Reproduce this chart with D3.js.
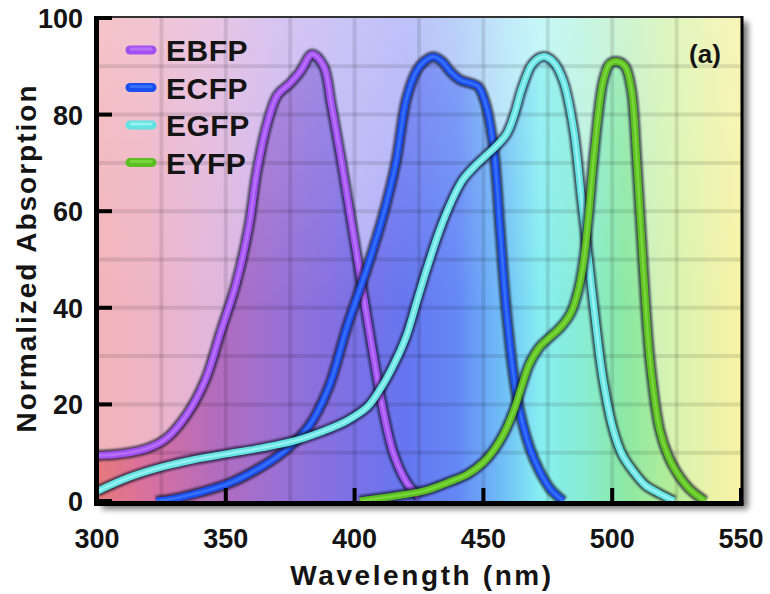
<!DOCTYPE html>
<html>
<head>
<meta charset="utf-8">
<script src="https://cdn.jsdelivr.net/npm/d3@7"></script>
<style>
body { margin: 0; background: #fff; }
text { font-family: "Liberation Sans", Arial, sans-serif; font-weight: bold; fill: #141414; }
</style>
</head>
<body>
<svg id="chart" width="770" height="594"></svg>
<script>
// absorption spectra
var names = ['EBFP', 'ECFP', 'EGFP', 'EYFP'];

var ebfpWave = [300, 310, 320, 327, 335, 342, 348, 354, 359, 362, 366, 370, 375, 379, 383.5, 388, 391, 395, 399, 403, 407, 411, 415, 420, 425];
var ebfpAbs  = [9.4, 9.8, 11, 13, 18, 25, 35, 45, 57, 68, 78, 84, 86.5, 89, 92.5, 90, 82, 70, 57, 44, 31, 19, 10, 4, 0.8];

var ecfpWave = [323, 330, 340, 351, 362, 372, 382, 390, 397, 405, 411, 416, 420, 424, 427, 430.5, 434, 437, 441, 445, 448, 451, 454, 456.5, 459, 463, 468, 472, 476, 481];
var ecfpAbs  = [0, 0.5, 1.8, 3.6, 6.5, 10, 15.3, 23.6, 36, 48.5, 59, 70, 83, 89, 91, 92, 91, 89, 87.2, 86.5, 85.8, 82, 73, 56, 39, 21.5, 11, 6, 2.5, 0];

var egfpWave = [300, 312, 325, 338, 351, 364, 377, 388, 397, 405, 410, 415, 420, 424, 428, 433, 438, 442, 447, 451, 455, 459, 462, 465, 469, 473, 477, 481, 485, 488, 491, 494, 496.5, 500.5, 504, 508, 513, 518.5, 524];
var egfpAbs  = [2, 4.8, 7, 8.6, 9.8, 11, 12.5, 14.5, 16.6, 19.5, 23.2, 28, 34, 41, 48, 56, 62.5, 66.5, 69.5, 71.5, 73.5, 76, 80, 85.5, 90.5, 92, 91, 87, 77, 63, 49, 35, 25, 14.6, 9.5, 6.3, 3.2, 1.5, 0];

var eyfpWave = [402, 415, 427, 436, 444, 450, 454, 458, 462, 465, 468, 472, 476, 480, 484, 487, 489, 491, 493, 496.5, 499, 501.8, 505, 507.5, 509.6, 512, 514.7, 518.5, 522, 525, 530, 536];
var eyfpAbs  = [0, 1, 2.1, 3.8, 5.6, 8, 10.5, 14, 19, 24, 28.5, 32, 34, 36, 39, 44, 50, 60, 72, 87, 90.5, 91, 90, 85, 70, 49, 29, 14.6, 9, 6, 2.5, 0];

var xTicks = [300, 350, 400, 450, 500, 550];
var yTicks = [0, 20, 40, 60, 80, 100];
var xGrid = [325, 350, 375, 400, 425, 450, 475, 500, 525];
var yGrid = [10, 20, 30, 40, 50, 60, 70, 80, 90];

// spectrum behind the plot: pale above the curves, saturated below them
var specWave  = [300, 320, 345, 370, 395, 420, 440, 458, 472, 490, 505, 525, 550];
var specLight = ['#f2b4b8', '#eeb4c6', '#e2b6dc', '#ccb4ee', '#bcb4f4', '#acb0f8', '#a8c4f8', '#b0e2f8', '#b6f6f6', '#b8f2dc', '#c0f0c4', '#daf4ae', '#f8f2a6'];
var specDark  = ['#e67a7a', '#d870a0', '#b46cbc', '#9a70d4', '#8070e4', '#6676f0', '#6488f6', '#70c0f6', '#86eef2', '#88ecd0', '#8ce8a4', '#b8ee98', '#f0f0a0'];

var colors = ['#a24ff0', '#1b4ff0', '#62e2e2', '#5cc022'];
var lights = ['#c88cff', '#4f8cff', '#c0fffc', '#92e84e'];

var series = [
    { name: names[0], wave: ebfpWave, abs: ebfpAbs },
    { name: names[1], wave: ecfpWave, abs: ecfpAbs },
    { name: names[2], wave: egfpWave, abs: egfpAbs },
    { name: names[3], wave: eyfpWave, abs: eyfpAbs }
];
series.forEach(function(s, i) {
    s.pts = s.wave.map(function(w, j) { return [w, s.abs[j]]; });
    s.color = colors[i];
    s.light = lights[i];
});

var x = d3.scaleLinear().domain([300, 550]).range([97, 741]);
var y = d3.scaleLinear().domain([0, 100]).range([501, 18]);

var svg = d3.select('#chart');
var defs = svg.append('defs');

var px0 = x(300), px1 = x(550), py0 = y(100) - 1, py1 = y(0);

function addGradient(id, cols) {
    var g = defs.append('linearGradient')
        .attr('id', id)
        .attr('gradientUnits', 'userSpaceOnUse')
        .attr('x1', px0).attr('x2', px1).attr('y1', 0).attr('y2', 0);
    specWave.forEach(function(w, i) {
        g.append('stop').attr('offset', (w - 300) / 250).attr('stop-color', cols[i]);
    });
}
addGradient('specLight', specLight);
addGradient('specDark', specDark);

var vfade = defs.append('linearGradient').attr('id', 'vfade')
    .attr('x1', 0).attr('x2', 0).attr('y1', 0).attr('y2', 1);
vfade.append('stop').attr('offset', 0).attr('stop-color', '#fff').attr('stop-opacity', 0.22);
vfade.append('stop').attr('offset', 0.6).attr('stop-color', '#fff').attr('stop-opacity', 0);

var shadow = defs.append('filter').attr('id', 'shadow')
    .attr('x', '-10%').attr('y', '-10%').attr('width', '130%').attr('height', '130%');
shadow.append('feGaussianBlur').attr('stdDeviation', 3);

var soft = defs.append('filter').attr('id', 'soft')
    .attr('x', '-10%').attr('y', '-10%').attr('width', '120%').attr('height', '120%');
soft.append('feGaussianBlur').attr('stdDeviation', 1.1);

defs.append('clipPath').attr('id', 'plotClip')
    .append('rect')
    .attr('x', px0).attr('y', py0)
    .attr('width', px1 - px0).attr('height', py1 - py0);

var smooth = d3.curveCatmullRom.alpha(0.5);

var area = d3.area()
    .x(function(d) { return x(d[0]); })
    .y0(y(0))
    .y1(function(d) { return y(d[1]); })
    .curve(smooth);

var line = d3.line()
    .x(function(d) { return x(d[0]); })
    .y(function(d) { return y(d[1]); })
    .curve(smooth);

var under = defs.append('clipPath').attr('id', 'underClip');
series.forEach(function(s) {
    under.append('path').attr('d', area(s.pts));
});

// frame shadow
svg.append('rect')
    .attr('x', px0 + 5).attr('y', py0 + 5)
    .attr('width', px1 - px0 + 2).attr('height', py1 - py0 + 3)
    .attr('fill', '#000').attr('opacity', 0.55)
    .attr('filter', 'url(#shadow)');

svg.append('rect')
    .attr('x', px0).attr('y', py0)
    .attr('width', px1 - px0).attr('height', py1 - py0)
    .attr('fill', 'url(#specLight)');

svg.append('rect')
    .attr('x', px0).attr('y', py0)
    .attr('width', px1 - px0).attr('height', py1 - py0)
    .attr('fill', 'url(#specDark)')
    .attr('clip-path', 'url(#underClip)');

svg.append('rect')
    .attr('x', px0).attr('y', py0)
    .attr('width', px1 - px0).attr('height', py1 - py0)
    .attr('fill', 'url(#vfade)');

// grid
var grid = svg.append('g').attr('stroke', '#000').attr('stroke-opacity', 0.1).attr('stroke-width', 4);
grid.selectAll('.vg').data(xGrid).enter().append('line')
    .attr('x1', function(d) { return x(d); }).attr('x2', function(d) { return x(d); })
    .attr('y1', py0).attr('y2', py1);
grid.selectAll('.hg').data(yGrid).enter().append('line')
    .attr('x1', px0).attr('x2', px1)
    .attr('y1', function(d) { return y(d); }).attr('y2', function(d) { return y(d); });

// curves
var curves = svg.append('g').attr('clip-path', 'url(#plotClip)');
series.forEach(function(s) {
    var g = curves.append('g');
    g.append('path').datum(s.pts).attr('d', line)
        .attr('fill', 'none').attr('stroke', '#12122a').attr('stroke-opacity', 0.75)
        .attr('stroke-width', 11).attr('stroke-linejoin', 'round')
        .attr('filter', 'url(#soft)');
    g.append('path').datum(s.pts).attr('d', line)
        .attr('fill', 'none').attr('stroke', s.color)
        .attr('stroke-width', 7).attr('stroke-linejoin', 'round');
    g.append('path').datum(s.pts).attr('d', line)
        .attr('fill', 'none').attr('stroke', s.light).attr('stroke-opacity', 0.55)
        .attr('stroke-width', 2.5).attr('stroke-linejoin', 'round');
});

// frame and axes
svg.append('line').attr('x1', px0).attr('x2', px1 + 1).attr('y1', py0).attr('y2', py0)
    .attr('stroke', '#333').attr('stroke-width', 2);
svg.append('line').attr('x1', px1 + 1).attr('x2', px1 + 1).attr('y1', py0 - 1).attr('y2', py1 + 4)
    .attr('stroke', '#000').attr('stroke-width', 3);
svg.append('line').attr('x1', px0 - 0.5).attr('x2', px0 - 0.5).attr('y1', py0 - 1).attr('y2', py1 + 5)
    .attr('stroke', '#000').attr('stroke-width', 5);
svg.append('line').attr('x1', px0 - 3).attr('x2', px1 + 2.5).attr('y1', py1 + 2.5).attr('y2', py1 + 2.5)
    .attr('stroke', '#000').attr('stroke-width', 5);

var ticks = svg.append('g').attr('stroke', '#000').attr('stroke-width', 4);
ticks.selectAll('.yt').data(yTicks).enter().append('line')
    .attr('x1', px0).attr('x2', px0 + 15)
    .attr('y1', function(d) { return y(d); }).attr('y2', function(d) { return y(d); });
ticks.selectAll('.xt').data(xTicks).enter().append('line')
    .attr('x1', function(d) { return x(d); }).attr('x2', function(d) { return x(d); })
    .attr('y1', py1).attr('y2', py1 - 13);

svg.selectAll('.ylab').data(yTicks).enter().append('text')
    .attr('x', 83).attr('y', function(d) { return y(d) + 10; })
    .attr('text-anchor', 'end').style('font-size', '27px')
    .text(function(d) { return d; });
svg.selectAll('.xlab').data(xTicks).enter().append('text')
    .attr('x', function(d) { return x(d); }).attr('y', 548)
    .attr('text-anchor', 'middle').style('font-size', '27px')
    .text(function(d) { return d; });

svg.append('text')
    .attr('x', x(425) + 3).attr('y', 585)
    .attr('text-anchor', 'middle').style('font-size', '28px').style('letter-spacing', '2.6px')
    .text('Wavelength (nm)');

svg.append('text')
    .attr('transform', 'translate(36,258) rotate(-90)')
    .attr('text-anchor', 'middle').style('font-size', '28px').style('letter-spacing', '2px')
    .text('Normalized Absorption');

svg.append('text')
    .attr('x', 705).attr('y', 63)
    .attr('text-anchor', 'middle').style('font-size', '26px')
    .text('(a)');

// legend
var legend = svg.append('g');
series.forEach(function(s, i) {
    var cy = 50 + i * 37.5;
    legend.append('line').attr('x1', 130).attr('x2', 152).attr('y1', cy).attr('y2', cy)
        .attr('stroke', '#12122a').attr('stroke-opacity', 0.7).attr('stroke-width', 13)
        .attr('stroke-linecap', 'round').attr('filter', 'url(#soft)');
    legend.append('line').attr('x1', 130).attr('x2', 152).attr('y1', cy).attr('y2', cy)
        .attr('stroke', s.color).attr('stroke-width', 9).attr('stroke-linecap', 'round');
    legend.append('line').attr('x1', 131).attr('x2', 151).attr('y1', cy - 1).attr('y2', cy - 1)
        .attr('stroke', s.light).attr('stroke-opacity', 0.55).attr('stroke-width', 3).attr('stroke-linecap', 'round');
    legend.append('text').attr('x', 166).attr('y', cy + 11)
        .style('font-size', '30px').style('letter-spacing', '0.5px')
        .text(s.name);
});
</script>
</body>
</html>
